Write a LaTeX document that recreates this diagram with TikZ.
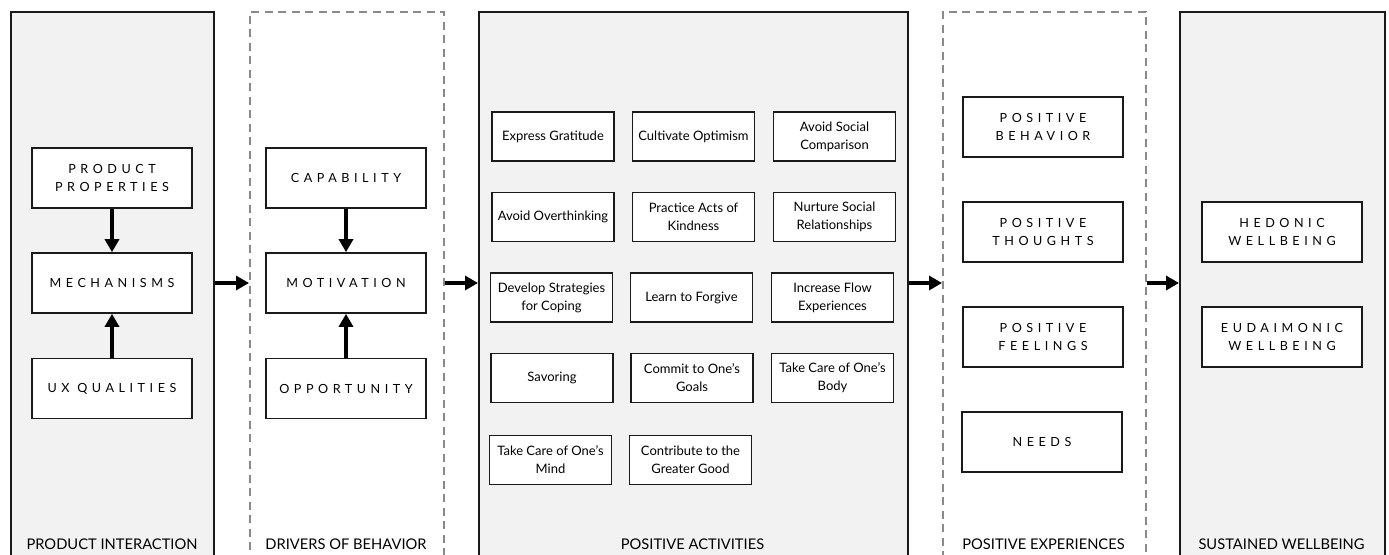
\documentclass[tikz,border=0pt]{standalone}
\usepackage{fontspec}
\setmainfont{Lato}
\newfontfamily\spaced[LetterSpace=36]{Lato}
\usetikzlibrary{arrows.meta}
\definecolor{panelgray}{HTML}{F2F2F2}
\definecolor{dashgray}{HTML}{8A8A8A}
\definecolor{inkdark}{HTML}{1A1A1A}
\tikzset{
  solidpanel/.style={draw=inkdark, line width=2pt, fill=panelgray, anchor=north west, inner sep=0pt},
  dashpanel/.style={draw=dashgray, line width=1.6pt, dash pattern=on 8pt off 5.5pt, fill=white, anchor=north west, inner sep=0pt},
  capbox/.style={draw=inkdark, line width=1.7pt, fill=white, minimum width=160pt, minimum height=60pt,
    inner sep=0pt, align=center, font=\spaced\fontsize{12.6}{18}\selectfont},
  actbox/.style={draw=inkdark, line width=1.5pt, fill=white, minimum width=122pt, minimum height=49pt,
    inner sep=0pt, align=center, font=\fontsize{13}{18}\selectfont},
  paneltitle/.style={font=\fontsize{14.7}{16}\selectfont, anchor=base},
  arr/.style={line width=3.5pt, -{Triangle[width=14pt,length=13pt]}, draw=black},
}
\begin{document}
\begin{tikzpicture}[x=1pt,y=-1pt]
\useasboundingbox (0,0) rectangle (1389,554);
\clip (0,0) rectangle (1389,554);
\fill[white] (0,0) rectangle (1389,554);

% columns
\node[solidpanel, minimum width=203pt, minimum height=580pt] (p1) at (10,11) {};
\node[dashpanel,  minimum width=194pt, minimum height=580pt] (p2) at (249,11) {};
\node[solidpanel, minimum width=429pt, minimum height=580pt] (p3) at (478,11) {};
\node[dashpanel,  minimum width=203pt, minimum height=580pt] (p4) at (942,11) {};
\node[solidpanel, minimum width=205pt, minimum height=580pt] (p5) at (1179,11) {};

% product interaction
\node[capbox] (pp) at (112,178) {PRODUCT\\PROPERTIES};
\node[capbox] (mech) at (112,283) {MECHANISMS};
\node[capbox] (ux) at (112,388.5) {UX QUALITIES};
\draw[arr] (pp) -- (mech);
\draw[arr] (ux) -- (mech);

% drivers of behavior
\node[capbox] (cap) at (346,178) {CAPABILITY};
\node[capbox] (mot) at (346,283) {MOTIVATION};
\node[capbox] (opp) at (346,388.5) {OPPORTUNITY};
\draw[arr] (cap) -- (mot);
\draw[arr] (opp) -- (mot);

% positive activities
\node[actbox] (a11) at (553,136.5) {Express Gratitude};
\node[actbox] (a12) at (693.5,136.5) {Cultivate Optimism};
\node[actbox] (a13) at (834.5,136.5) {Avoid Social\\Comparison};
\node[actbox] (a21) at (553,217) {Avoid Overthinking};
\node[actbox] (a22) at (693.5,217) {Practice Acts of\\Kindness};
\node[actbox] (a23) at (834.5,217) {Nurture Social\\Relationships};
\node[actbox] (a31) at (551.5,297.5) {Develop Strategies\\for Coping};
\node[actbox] (a32) at (691.5,297.5) {Learn to Forgive};
\node[actbox] (a33) at (832.5,297.5) {Increase Flow\\Experiences};
\node[actbox] (a41) at (552,378) {Savoring};
\node[actbox] (a42) at (692,378) {Commit to One's\\Goals};
\node[actbox] (a43) at (832.5,378) {Take Care of One's\\Body};
\node[actbox] (a51) at (550.5,460) {Take Care of One's\\Mind};
\node[actbox] (a52) at (690.5,460) {Contribute to the\\Greater Good};

% positive experiences
\node[capbox] (pb) at (1043,127) {POSITIVE\\BEHAVIOR};
\node[capbox] (pt) at (1043,232) {POSITIVE\\THOUGHTS};
\node[capbox] (pf) at (1043,337) {POSITIVE\\FEELINGS};
\node[capbox] (nd) at (1042,442) {NEEDS};

% sustained wellbeing
\node[capbox] (hw) at (1282,232) {HEDONIC\\WELLBEING};
\node[capbox] (ew) at (1282,337) {EUDAIMONIC\\WELLBEING};

% flow between columns
\draw[arr] (p1.east |- mech.east) -- (p2.west |- mech.east);
\draw[arr] (p2.east |- mech.east) -- (p3.west |- mech.east);
\draw[arr] (p3.east |- mech.east) -- (p4.west |- mech.east);
\draw[arr] (p4.east |- mech.east) -- (p5.west |- mech.east);

% column titles
\node[paneltitle] (t1) at (112,549) {PRODUCT INTERACTION};
\node[paneltitle] (t2) at (346,549) {DRIVERS OF BEHAVIOR};
\node[paneltitle] (t3) at (692.5,549) {POSITIVE ACTIVITIES};
\node[paneltitle] (t4) at (1043.5,549) {POSITIVE EXPERIENCES};
\node[paneltitle] (t5) at (1281.5,549) {SUSTAINED WELLBEING};
\end{tikzpicture}
\end{document}
